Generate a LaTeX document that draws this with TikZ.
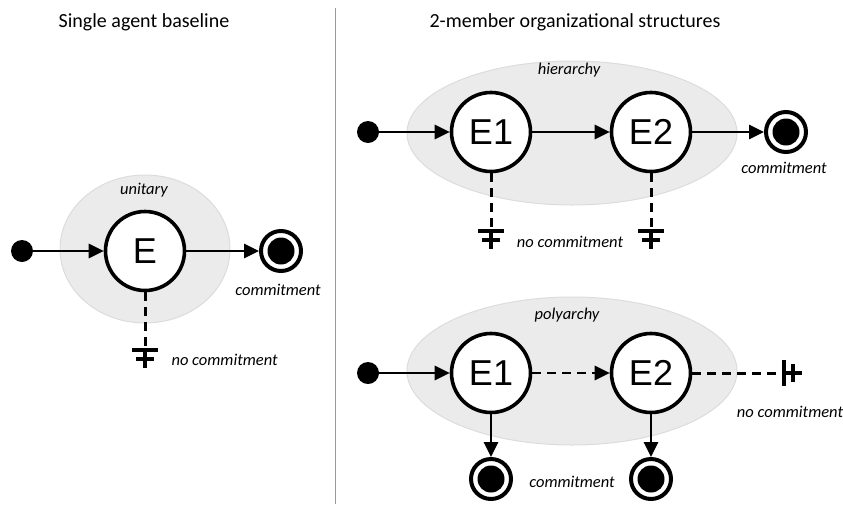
\documentclass[tikz,border=0pt]{standalone}
\usepackage{fontspec}
\setmainfont{Carlito}
\newfontfamily\arialfont{Liberation Sans}
\usetikzlibrary{arrows.meta,shapes.geometric}
\definecolor{orgfill}{HTML}{EBEBEB}
\definecolor{orgline}{HTML}{DCDCDC}
\tikzset{
  agent/.style={circle, draw, line width=3.6pt, fill=white, minimum size=79pt, inner sep=0pt,
    font=\arialfont\fontsize{36}{36}\selectfont},
  startdot/.style={circle, fill=black, minimum size=22pt, inner sep=0pt},
  endring/.style={circle, draw, line width=4pt, fill=white, minimum size=40pt, inner sep=0pt,
    path picture={\fill[black] (path picture bounding box.center) circle (13.5pt);}},
  flow/.style={line width=2.8pt, -{Triangle[length=15pt,width=14pt]}},
  noflow/.style={line width=3pt, dash pattern=on 9pt off 6pt},
  lbl/.style={font=\itshape\fontsize{16.5}{16.5}\selectfont},
  heading/.style={font=\fontsize{20}{20}\selectfont},
  stopper/.pic={
    \draw[line width=3.4pt] (-13,0) -- (13,0);
    \draw[line width=3.4pt] (-9,9) -- (9,9);
    \draw[line width=3.4pt] (0,0) -- (0,18);
  }
}
\begin{document}
\begin{tikzpicture}[x=1pt, y=-1pt]
        \useasboundingbox (0,0) rectangle (843,504);
        % headings and divider
        \node[heading] (hsingle) at (144,22) {Single agent baseline};
        \node[heading] (hmember) at (575,22) {2-member organizational structures};
        \draw[line width=1pt, color=black!40] (335,8) -- (335,504);
        % organisations
        \fill[orgfill, draw=orgline, line width=1pt] (145,249) ellipse (85 and 74);
        \fill[orgfill, draw=orgline, line width=1pt] (572,133) ellipse (165 and 72);
        \fill[orgfill, draw=orgline, line width=1pt] (572,371) ellipse (165 and 74);
        % single agent
        \node[lbl] (unitary) at (144,190) {unitary};
        \node[startdot] (s0) at (22,251) {};
        \node[agent] (e) at (145,251) {E};
        \node[endring] (c0) at (281,251) {};
        \node[lbl] (cl0) at (278,290) {commitment};
        \coordinate (g0) at (145,350);
        \node[lbl, anchor=west] (nl0) at (168,360) {no commitment};
        \draw[flow] (s0) -- (e);
        \draw[flow] (e) -- (c0);
        \draw[noflow] (e.south) -- (g0);
        \pic at (g0) {stopper};
        % hierarchy
        \node[lbl] (hier) at (569,70) {hierarchy};
        \node[startdot] (s1) at (368,132) {};
        \node[agent] (h1) at (491,132) {E1};
        \node[agent] (h2) at (651,132) {E2};
        \node[endring] (c1) at (786,132) {};
        \node[lbl] (cl1) at (784,168) {commitment};
        \coordinate (g1) at (491,231);
        \coordinate (g2) at (651,231);
        \node[lbl] (nl1) at (570,242) {no commitment};
        \draw[flow] (s1) -- (h1);
        \draw[flow] (h1) -- (h2);
        \draw[flow] (h2) -- (c1);
        \draw[noflow] (h1.south) -- (g1);
        \draw[noflow] (h2.south) -- (g2);
        \pic at (g1) {stopper};
        \pic at (g2) {stopper};
        % polyarchy
        \node[lbl] (poly) at (567,315) {polyarchy};
        \node[startdot] (s2) at (368,373) {};
        \node[agent] (p1) at (491,373) {E1};
        \node[agent] (p2) at (651,373) {E2};
        \node[endring] (c2) at (491,479) {};
        \node[endring] (c3) at (651,479) {};
        \node[lbl] (cl2) at (572,482) {commitment};
        \coordinate (g3) at (784,373);
        \node[lbl] (nl2) at (790,412) {no commitment};
        \draw[flow] (s2) -- (p1);
        \draw[flow, dash pattern=on 9pt off 6pt] (p1) -- (p2);
        \draw[noflow] (p2.east) -- (g3);
        \pic[rotate=90] at (g3) {stopper};
        \draw[flow] (p1) -- (c2);
        \draw[flow] (p2) -- (c3);
    \end{tikzpicture}
\end{document}
